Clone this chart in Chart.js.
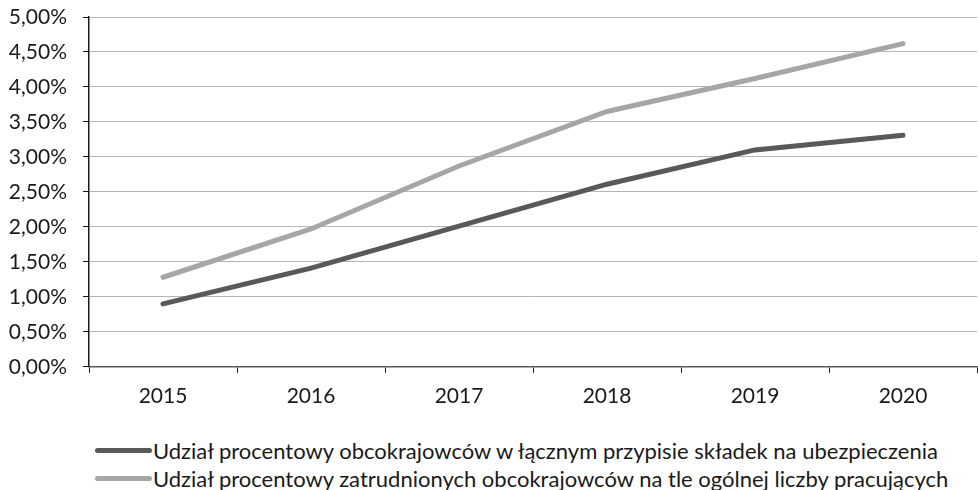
<!DOCTYPE html>
<html>
<head>
<meta charset="utf-8">
<script src="https://cdn.jsdelivr.net/npm/chart.js@4"></script>
<style>
  html, body { margin: 0; padding: 0; background: #fff; }
  #wrap { position: relative; width: 978px; height: 490px; }
  #chartBox { position: absolute; left: 0; top: 0; width: 978px; height: 420px; }
  #legend { position: absolute; left: 95px; top: 436px; font-family: Lato, sans-serif; font-size: 22px; color: #1a1a1a; }
  .row { display: flex; align-items: center; height: 28px; }
  .mark { width: 57px; height: 5px; border-radius: 3px; margin-right: 1px; }
</style>
</head>
<body>
<div id="wrap">
  <div id="chartBox"><canvas id="myChart"></canvas></div>
  <div id="legend"></div>
</div>
<script>
const years = ['2015', '2016', '2017', '2018', '2019', '2020'];
// udział w przypisie składek (%)
const skladki = [0.90, 1.41, 2.01, 2.61, 3.10, 3.31];
// udział zatrudnionych (%)
const zatrudnieni = [1.28, 1.97, 2.87, 3.65, 4.12, 4.62];
const seriesNames = [
    'Udział procentowy obcokrajowców w łącznym przypisie składek na ubezpieczenia',
    'Udział procentowy zatrudnionych obcokrajowców na tle ogólnej liczby pracujących'
];
const seriesColors = ['#595959', '#a6a6a6'];

// html legend, left aligned like the original
const legendDiv = document.getElementById('legend');
seriesNames.forEach((name, i) => {
    const row = document.createElement('div');
    row.className = 'row';
    const mark = document.createElement('span');
    mark.className = 'mark';
    mark.style.background = seriesColors[i];
    const txt = document.createElement('span');
    txt.textContent = name;
    row.appendChild(mark);
    row.appendChild(txt);
    legendDiv.appendChild(row);
});

const ctx = document.getElementById('myChart').getContext('2d');
const tickFont = { family: 'Lato, sans-serif', size: 21 };

new Chart(ctx, {
    type: 'line',
    data: {
        labels: years,
        datasets: [{
            label: seriesNames[0],
            data: skladki,
            borderColor: seriesColors[0],
            borderWidth: 5,
            borderCapStyle: 'round',
            pointRadius: 0,
            tension: 0
        }, {
            label: seriesNames[1],
            data: zatrudnieni,
            borderColor: seriesColors[1],
            borderWidth: 5,
            borderCapStyle: 'round',
            pointRadius: 0,
            tension: 0
        }]
    },
    options: {
        animation: false,
        maintainAspectRatio: false,
        responsive: true,
        layout: { padding: { top: 17, right: 1, left: 0, bottom: 0 } },
        plugins: {
            legend: { display: false },
            tooltip: { enabled: false }
        },
        scales: {
            x: {
                offset: true,
                grid: {
                    offset: true,
                    drawOnChartArea: false,
                    tickLength: 6,
                    tickColor: '#1a1a1a'
                },
                border: { color: '#595959', width: 1.5 },
                ticks: { font: tickFont, color: '#1a1a1a', padding: 11 }
            },
            y: {
                min: 0,
                max: 5,
                afterFit: (scale) => {
                    scale.width = 89;
                    // tick padding is horizontal only here
                    scale.paddingTop = 0;
                    scale.paddingBottom = 0;
                },
                grid: {
                    color: '#b5b5b5',
                    tickLength: 6,
                    tickColor: '#1a1a1a'
                },
                border: { color: '#1a1a1a', width: 1.5 },
                ticks: {
                    stepSize: 0.5,
                    font: tickFont,
                    color: '#1a1a1a',
                    padding: 16,
                    callback: (v) => v.toFixed(2).replace('.', ',') + '%'
                }
            }
        }
    }
});
</script>
</body>
</html>
